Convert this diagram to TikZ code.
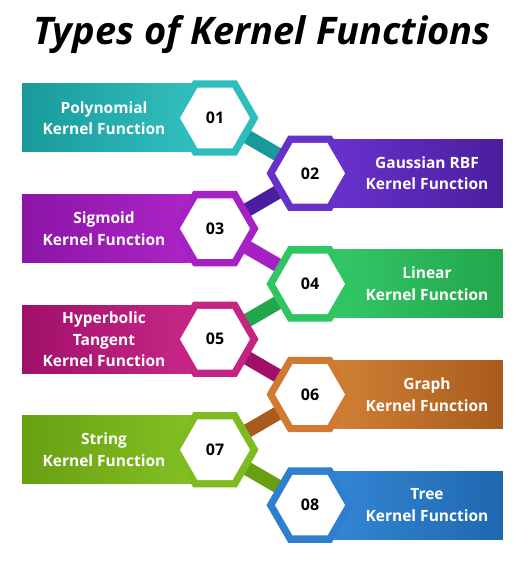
\documentclass[tikz,border=0pt]{standalone}
\usepackage{fontspec}
\setmainfont{Open Sans}
\usetikzlibrary{shapes.geometric,backgrounds}

% row colours: ring, dark end, light end
\definecolor{tealring}{HTML}{2EBDBD}
\definecolor{tealdark}{HTML}{189A9A}
\definecolor{teallight}{HTML}{36C3C3}
\definecolor{purpring}{HTML}{6531C9}
\definecolor{purpdark}{HTML}{4A1E9E}
\definecolor{purplight}{HTML}{6B34D2}
\definecolor{violring}{HTML}{A621C3}
\definecolor{violdark}{HTML}{8C15A7}
\definecolor{viollight}{HTML}{B126CA}
\definecolor{greenring}{HTML}{2FC560}
\definecolor{greendark}{HTML}{22A64C}
\definecolor{greenlight}{HTML}{36CC6A}
\definecolor{pinkring}{HTML}{C42482}
\definecolor{pinkdark}{HTML}{A0106A}
\definecolor{pinklight}{HTML}{CC2A8A}
\definecolor{orangering}{HTML}{CF7A30}
\definecolor{orangedark}{HTML}{A85B1C}
\definecolor{orangelight}{HTML}{D6853A}
\definecolor{limering}{HTML}{7DBB1E}
\definecolor{limedark}{HTML}{68A012}
\definecolor{limelight}{HTML}{86C425}
\definecolor{bluering}{HTML}{2E7FD0}
\definecolor{bluedark}{HTML}{1F68B0}
\definecolor{bluelight}{HTML}{3689D8}

\begin{document}
\begin{tikzpicture}[
  x=1pt,y=-1pt,
  hexring/.style={regular polygon,regular polygon sides=6,inner sep=0pt,minimum size=87pt},
  hexcore/.style={regular polygon,regular polygon sides=6,inner sep=0pt,minimum size=70pt,
    fill=white,font=\fontsize{16}{18}\selectfont\bfseries},
  leftpanel/.style={anchor=west,minimum width=193pt,minimum height=68pt,inner sep=0pt},
  rightpanel/.style={anchor=east,minimum width=193pt,minimum height=68pt,inner sep=0pt},
  paneltext/.style={text=white,align=center,font=\fontsize{15.5}{21.5}\selectfont\bfseries},
  linkbar/.style={line width=14pt}
]
\useasboundingbox (0,0) rectangle (516,564);

\node[font=\fontsize{38}{40}\selectfont\bfseries\itshape] (title) at (262,35) {Types of Kernel Functions};

% ---- left column: 01, 03, 05, 07 ----
\node[leftpanel,left color=tealdark,right color=teallight] (p1) at (22,118) {};
\node[paneltext] (t1) at (104,118) {Polynomial\\Kernel Function};
\node[leftpanel,left color=violdark,right color=viollight] (p3) at (22,228.6) {};
\node[paneltext] (t3) at (104,228.6) {Sigmoid\\Kernel Function};
\node[leftpanel,left color=pinkdark,right color=pinklight] (p5) at (22,339.2) {};
\node[paneltext] (t5) at (104,339.2) {Hyperbolic\\Tangent\\Kernel Function};
\node[leftpanel,left color=limedark,right color=limelight] (p7) at (22,449.8) {};
\node[paneltext] (t7) at (104,449.8) {String\\Kernel Function};

% ---- right column: 02, 04, 06, 08 ----
\node[rightpanel,left color=purplight,right color=purpdark] (p2) at (503,173.3) {};
\node[paneltext] (t2) at (427,173.3) {Gaussian RBF\\Kernel Function};
\node[rightpanel,left color=greenlight,right color=greendark] (p4) at (503,283.9) {};
\node[paneltext] (t4) at (427,283.9) {Linear\\Kernel Function};
\node[rightpanel,left color=orangelight,right color=orangedark] (p6) at (503,394.5) {};
\node[paneltext] (t6) at (427,394.5) {Graph\\Kernel Function};
\node[rightpanel,left color=bluelight,right color=bluedark] (p8) at (503,505.1) {};
\node[paneltext] (t8) at (427,505.1) {Tree\\Kernel Function};

% ---- hexagons ----
\node[hexring,fill=tealring] (r1) at (215,118) {};
\node[hexcore] (h1) at (r1) {01};
\node[hexring,fill=purpring] (r2) at (310,173.3) {};
\node[hexcore] (h2) at (r2) {02};
\node[hexring,fill=violring] (r3) at (215,228.6) {};
\node[hexcore] (h3) at (r3) {03};
\node[hexring,fill=greenring] (r4) at (310,283.9) {};
\node[hexcore] (h4) at (r4) {04};
\node[hexring,fill=pinkring] (r5) at (215,339.2) {};
\node[hexcore] (h5) at (r5) {05};
\node[hexring,fill=orangering] (r6) at (310,394.5) {};
\node[hexcore] (h6) at (r6) {06};
\node[hexring,fill=limering] (r7) at (215,449.8) {};
\node[hexcore] (h7) at (r7) {07};
\node[hexring,fill=bluering] (r8) at (310,505.1) {};
\node[hexcore] (h8) at (r8) {08};

% ---- links between hexagons ----
\begin{scope}[on background layer]
  \draw[linkbar,tealdark] (r1.center) -- (r2.center);
  \draw[linkbar,purpdark] (r2.center) -- (r3.center);
  \draw[linkbar,violring] (r3.center) -- (r4.center);
  \draw[linkbar,greendark] (r4.center) -- (r5.center);
  \draw[linkbar,pinkdark] (r5.center) -- (r6.center);
  \draw[linkbar,orangedark] (r6.center) -- (r7.center);
  \draw[linkbar,limedark] (r7.center) -- (r8.center);
\end{scope}

\end{tikzpicture}
\end{document}
